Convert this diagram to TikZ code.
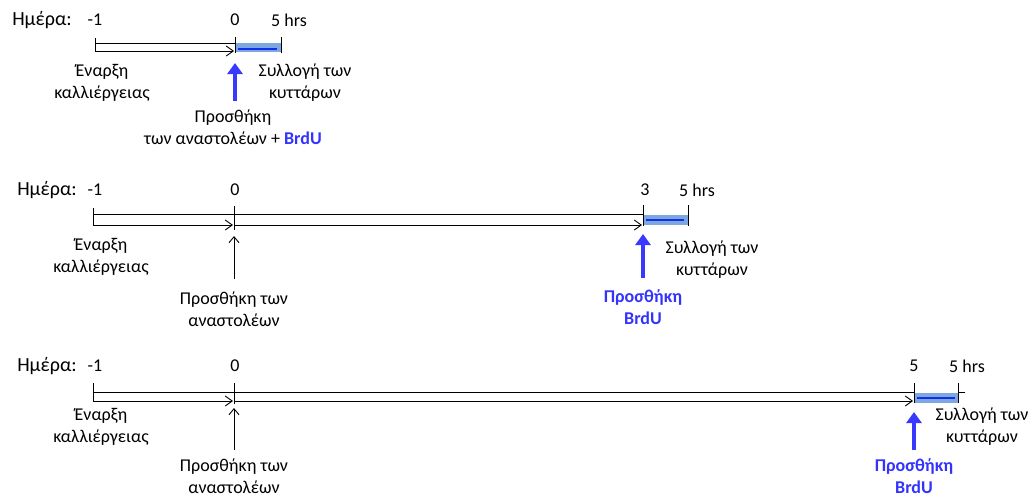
\documentclass[tikz,border=0pt]{standalone}
\usepackage{fontspec}
\setmainfont{Carlito}
\usetikzlibrary{arrows.meta}
\definecolor{boxfill}{HTML}{7EA6E0}
\definecolor{boxline}{HTML}{1030E8}
\definecolor{bluearr}{HTML}{3838FF}
\definecolor{bluetxt}{HTML}{3333FF}
\tikzset{
  txt/.style={inner sep=0pt, align=center, font=\fontsize{18}{22}\selectfont},
  hdr/.style={inner sep=0pt, font=\fontsize{20}{22}\selectfont},
  bluetext/.style={txt, text=bluetxt, font=\fontsize{18}{22}\selectfont\bfseries},
  railline/.style={line width=0.9pt, line cap=rect},
  railarrow/.style={line width=0.9pt, -{Straight Barb[length=7pt,width=10pt,line width=0.9pt]}},
  tickline/.style={line width=0.9pt},
  hrsbox/.style={draw=boxfill, fill=boxfill, line width=0.6pt},
  hrsline/.style={draw=boxline, line width=2.4pt},
  bluearrow/.style={draw=bluearr, line width=3.6pt, -{Triangle[length=11pt,width=15pt]}},
  blackarrow/.style={line width=0.9pt, -{Straight Barb[length=6pt,width=10pt,line width=0.9pt]}},
}
\begin{document}
\begin{tikzpicture}[x=1pt,y=-1pt]
\useasboundingbox (0,0) rectangle (1035,499);

% ---------------- Row 1 ----------------
\node[hdr] (h1) at (42,20) {Ημέρα:};
\node[txt] (m1) at (95,20) {-1};
\node[txt] (z1) at (235,20) {0};
\node[txt] (f1) at (289,20) {5 hrs};
\coordinate (r1a) at (95,43);
\coordinate (r1b) at (95,51);
\coordinate (r1c) at (235,43);
\coordinate (r1d) at (235,51);
\coordinate (r1e) at (281,43);
\coordinate (r1f) at (281,51);
\coordinate (t1a) at (95,38);
\coordinate (t1b) at (95,52);
\coordinate (t1c) at (235,37);
\coordinate (t1d) at (235,53);
\coordinate (t1e) at (281,37);
\coordinate (t1f) at (281,53);
\draw[hrsbox] (r1c) rectangle (r1f);
\draw[hrsline] ([xshift=3pt,yshift=2pt]r1d) -- ([xshift=-4pt,yshift=2pt]r1f);
\draw[railline] (r1a) -- (r1c);
\draw[railarrow] (r1b) -- ([xshift=-1pt]r1d);
\draw[tickline] (t1a) -- (t1b);
\draw[tickline] (t1c) -- (t1d);
\draw[tickline] (t1e) -- (t1f);
\node[txt] (s1) at (102,83) {Έναρξη\\καλλιέργειας};
\node[txt] (c1) at (305,83) {Συλλογή των\\κυττάρων};
\node[txt] (p1) at (233,127) {Προσθήκη\\των αναστολέων + {\color{bluetxt}\bfseries BrdU}};
\coordinate (a1) at (235,101);
\draw[bluearrow] (a1) -- (235,63);

% ---------------- Row 2 ----------------
\node[hdr] (h2) at (47,190) {Ημέρα:};
\node[txt] (m2) at (95,190) {-1};
\node[txt] (z2) at (235,190) {0};
\node[txt] (g2) at (645,190) {3};
\node[txt] (f2) at (697,190) {5 hrs};
\coordinate (r2a) at (93,214);
\coordinate (r2b) at (93,225);
\coordinate (r2c) at (234,214);
\coordinate (r2d) at (234,225);
\coordinate (r2e) at (643,214);
\coordinate (r2f) at (643,225);
\coordinate (r2g) at (688,214);
\coordinate (r2h) at (688,225);
\draw[hrsbox] (643,215) rectangle (688,224);
\draw[hrsline] (646,220) -- (684,220);
\draw[railline] (r2a) -- (r2e);
\draw[railarrow] (r2b) -- ([xshift=-1pt]r2d);
\draw[railarrow] (r2d) -- ([xshift=-1pt]r2f);
\draw[tickline] (93,208) -- (93,226);
\draw[tickline] (234,206) -- (234,230);
\draw[tickline] (643,205) -- (643,226);
\draw[tickline] (688,205) -- (688,226);
\node[txt] (s2) at (101,257) {Έναρξη\\καλλιέργειας};
\node[txt] (c2) at (712,260) {Συλλογή των\\κυττάρων};
\node[txt] (p2) at (234,309) {Προσθήκη των\\αναστολέων};
\node[bluetext] (b2) at (643,307) {Προσθήκη\\BrdU};
\draw[blackarrow] (234,279) -- (234,236);
\draw[bluearrow] (643,278) -- (643,234);

% ---------------- Row 3 ----------------
\node[hdr] (h3) at (47,366) {Ημέρα:};
\node[txt] (m3) at (95,366) {-1};
\node[txt] (z3) at (235,366) {0};
\node[txt] (g3) at (914,366) {5};
\node[txt] (f3) at (967,366) {5 hrs};
\coordinate (r3a) at (93,392);
\coordinate (r3b) at (93,401);
\coordinate (r3c) at (234,392);
\coordinate (r3d) at (234,401);
\coordinate (r3e) at (914,392);
\coordinate (r3f) at (914,401);
\coordinate (r3g) at (958,392);
\coordinate (r3h) at (958,401);
\draw[hrsbox] (914,393) rectangle (958,402);
\draw[hrsline] (917,398) -- (955,398);
\draw[railline] (r3a) -- (r3e);
\draw[railline] (r3g) -- (965,392);
\draw[railarrow] (r3b) -- ([xshift=-1pt]r3d);
\draw[railarrow] (r3d) -- ([xshift=-1pt]r3f);
\draw[tickline] (93,383) -- (93,402);
\draw[tickline] (234,383) -- (234,404);
\draw[tickline] (914,383) -- (914,403);
\draw[tickline] (958,383) -- (958,403);
\node[txt] (s3) at (101,427) {Έναρξη\\καλλιέργειας};
\node[txt] (c3) at (982,427) {Συλλογή των\\κυττάρων};
\node[txt] (p3) at (234,476) {Προσθήκη των\\αναστολέων};
\node[bluetext] (b3) at (914,476) {Προσθήκη\\BrdU};
\draw[blackarrow] (234,450) -- (234,408);
\draw[bluearrow] (914,450) -- (914,412);
\end{tikzpicture}
\end{document}
